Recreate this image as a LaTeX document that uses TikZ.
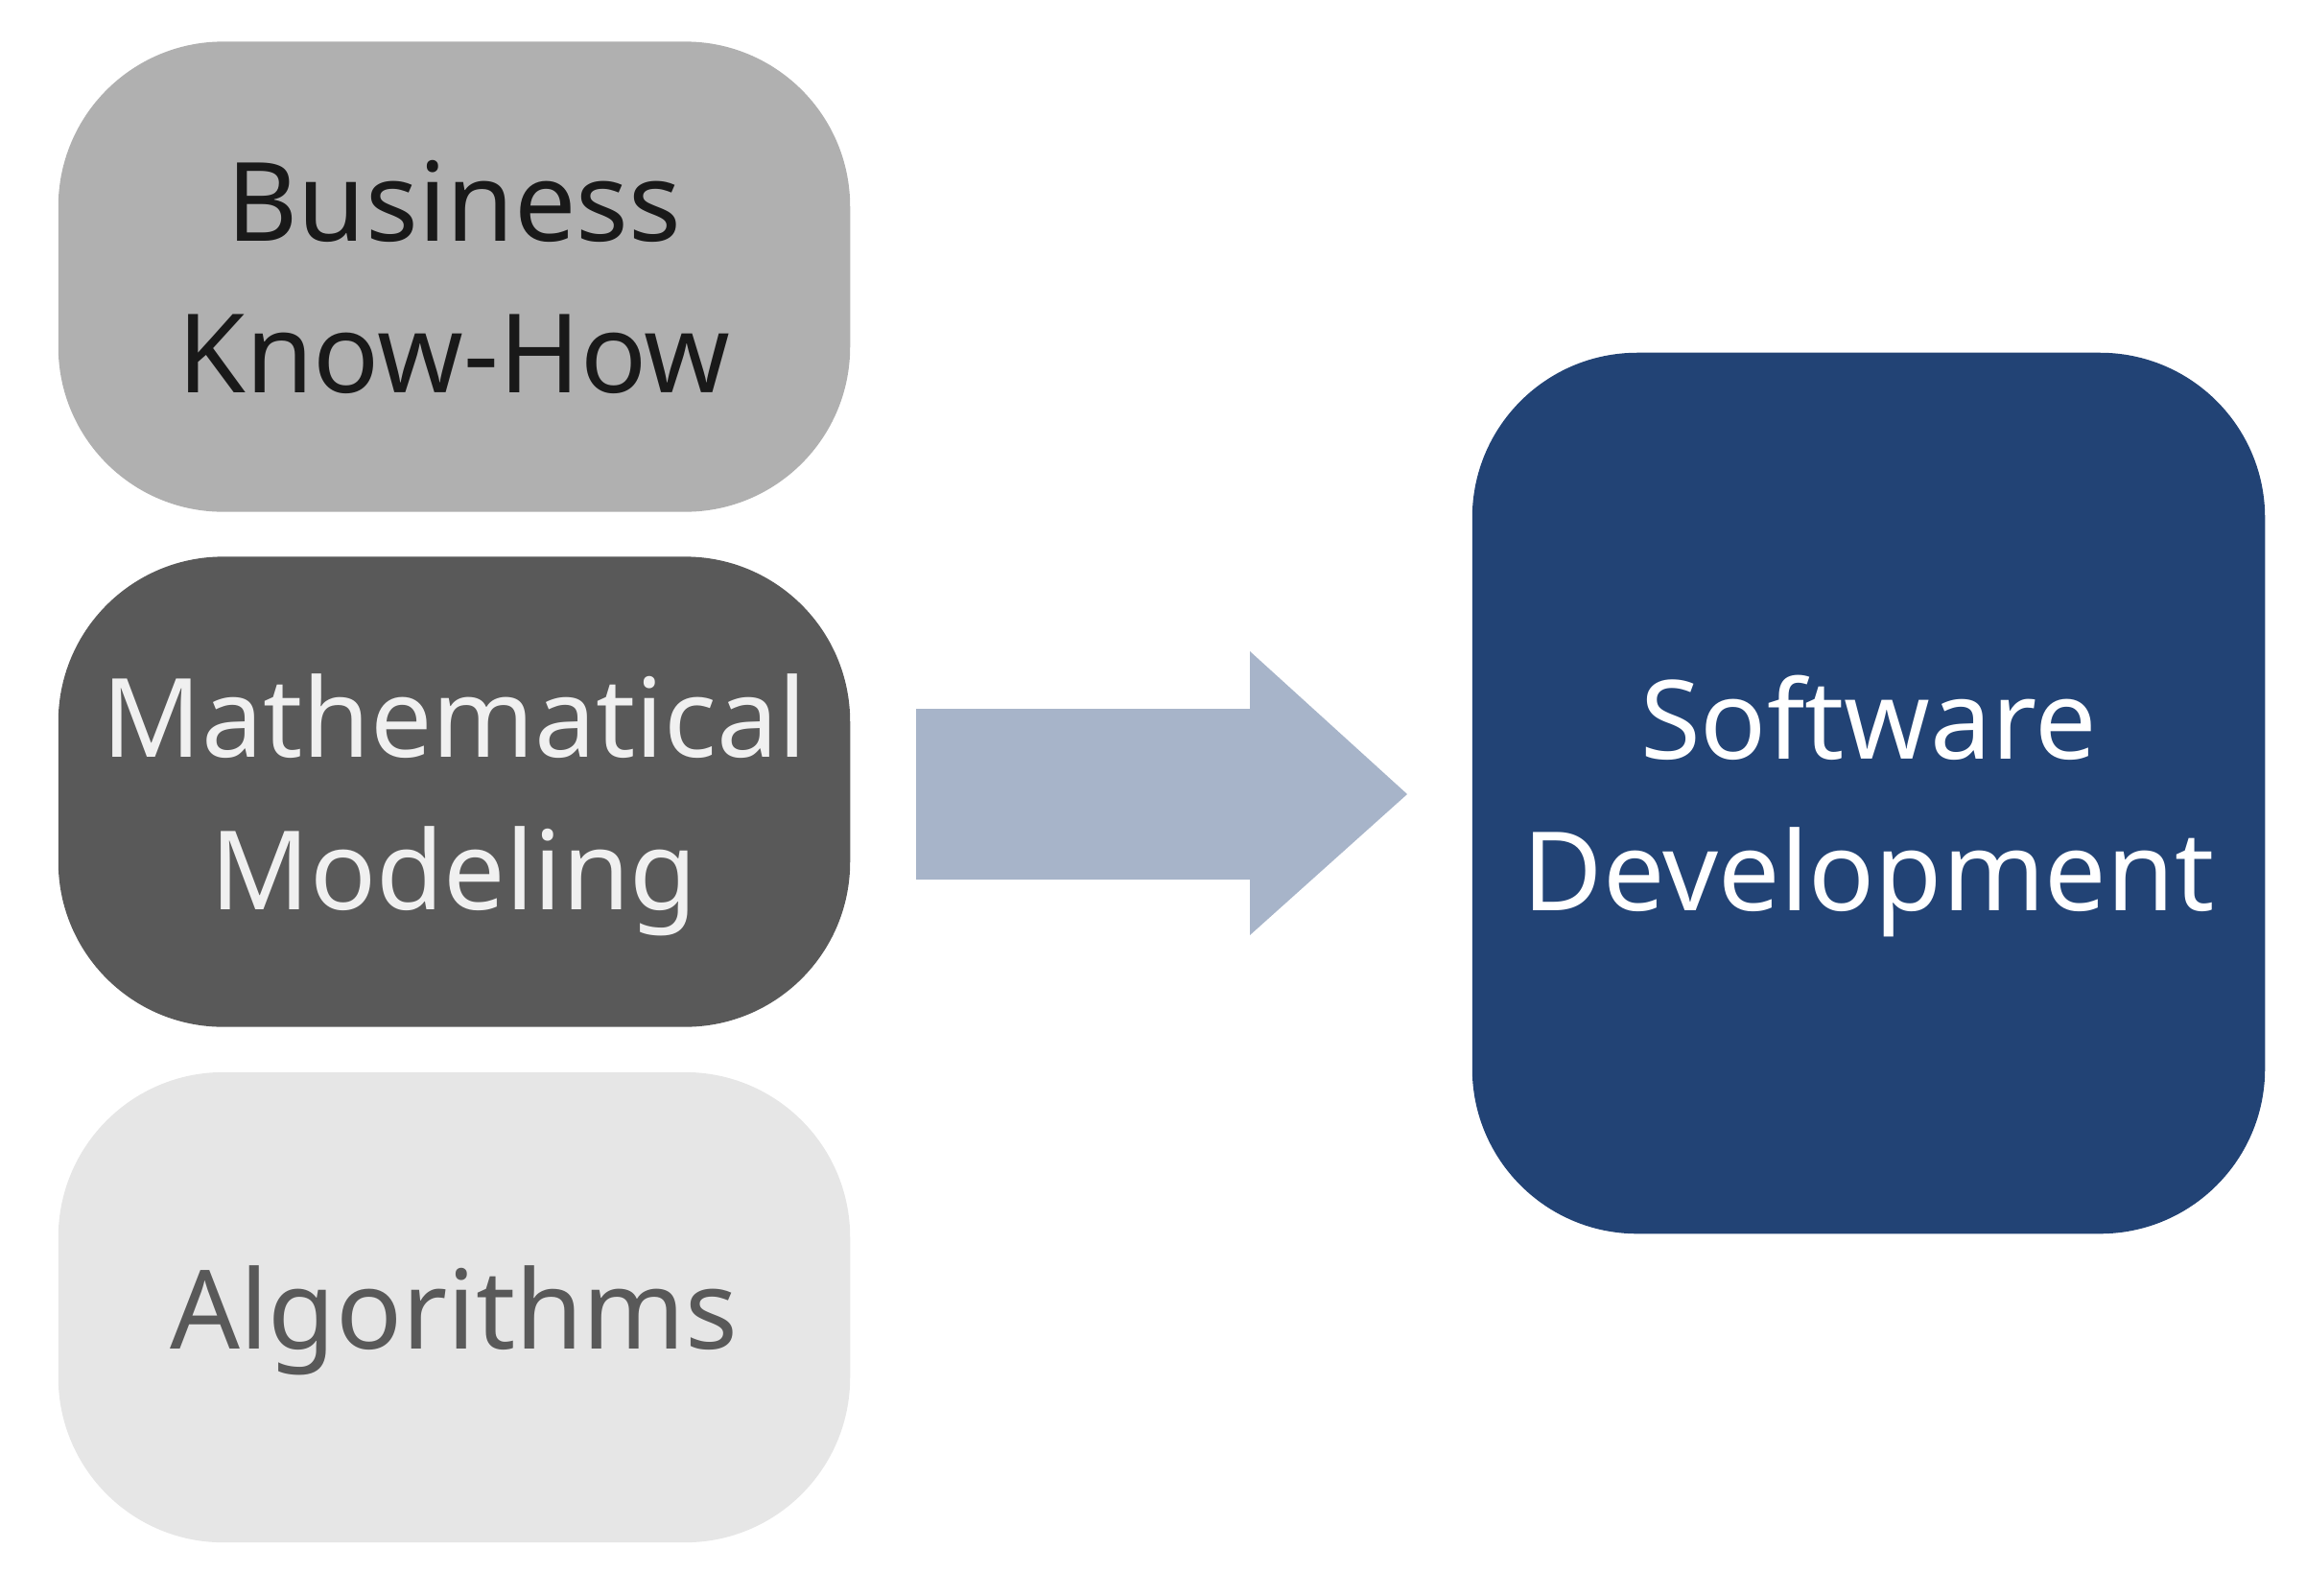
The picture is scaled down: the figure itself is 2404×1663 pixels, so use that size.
\documentclass[tikz,border=0pt]{standalone}
\usepackage{fontspec}
\setmainfont{Noto Sans}
\usetikzlibrary{positioning}

\definecolor{bizgray}{HTML}{B0B0B0}
\definecolor{mathgray}{HTML}{595959}
\definecolor{algogray}{HTML}{E6E6E6}
\definecolor{arrowblue}{HTML}{A7B4C9}
\definecolor{softblue}{HTML}{224375}

\begin{document}
\begin{tikzpicture}[x=0.01cm,y=-0.01cm,
    block/.style={rounded corners=1.72cm, inner sep=0pt, align=center,
      minimum width=8.25cm, minimum height=4.9cm, text depth=0pt,
      font=\fontsize{32.5}{45}\selectfont},
  ]

              \useasboundingbox (0,0) rectangle (2404,1663);

              % Left blocks
              \node[block, fill=bizgray, text=black!90] (biz) at (473.5,288.5) {Business\\Know-How};
              \node[block, fill=mathgray, text=white!94!black] (math) at (473.5,825.5) {Mathematical\\Modeling};
              \node[block, fill=algogray, text=mathgray] (algo) at (473.5,1363) {Algorithms};

              % Result
              \node[block, fill=softblue, text=white, minimum width=8.26cm, minimum height=9.18cm] (soft) at (1948,827) {Software\\Development};

              % Arrow
              \fill[arrowblue] (955,739) -- (1303,739) -- (1303,679) -- (1467,828)
                -- (1303,975) -- (1303,917) -- (955,917) -- cycle;

\end{tikzpicture}
\end{document}
